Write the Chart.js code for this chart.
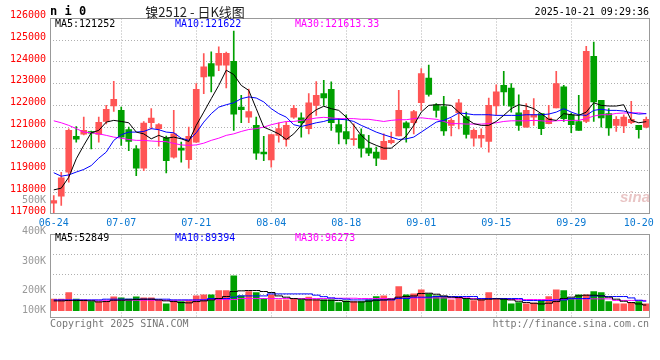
<!DOCTYPE html>
<html>
<head>
<meta charset="utf-8">
<script src="https://cdn.jsdelivr.net/npm/chart.js"></script>
<style>
  html, body { margin: 0; padding: 0; background: #fff; }
  #wrap { position: relative; width: 660px; height: 360px; }
  #wrap canvas { position: absolute; left: 0; top: 0; }
</style>
</head>
<body>
<div id="wrap">
  <canvas id="kline" width="660" height="360"></canvas>
  <canvas id="vol" width="660" height="360"></canvas>
</div>
<script>
const dates = [
  '06-24','06-25','06-26','06-27','06-30',
  '07-01','07-02','07-03','07-04','07-07','07-08','07-09','07-10','07-11',
  '07-14','07-15','07-16','07-17','07-18','07-21','07-22','07-23','07-24','07-25',
  '07-28','07-29','07-30','07-31','08-01',
  '08-04','08-05','08-06','08-07','08-08','08-11','08-12','08-13','08-14','08-15',
  '08-18','08-19','08-20','08-21','08-22','08-25','08-26','08-27','08-28','08-29',
  '09-01','09-02','09-03','09-04','09-05','09-08','09-09','09-10','09-11','09-12',
  '09-15','09-16','09-17','09-18','09-19','09-22','09-23','09-24','09-25','09-26',
  '09-29','09-30','10-09','10-10','10-13','10-14','10-15','10-16','10-17','10-20','10-21'
];
const tickDates = ['06-24','07-07','07-21','08-04','08-18','09-01','09-15','09-29','10-20'];
const gridDates = ['07-07','07-21','08-04','08-18','09-01','09-15','09-29'];

const openP = [117500,117820,118920,120570,120680,120800,120660,121260,121970,121770,
  120890,120000,119110,121200,120930,120510,119620,120030,119500,120310,
  123310,123920,123850,123850,124030,121920,121460,121080,119850,119490,
  120620,120430,121460,121430,120930,122000,122540,122740,121120,120800,
  120420,120660,120030,119850,119510,120280,120590,121200,121200,122120,
  123260,122030,121950,121080,121660,121490,120490,120490,120340,121970,
  122920,122800,121660,121000,121460,121620,121160,121880,122850,121570,
  121260,121260,124260,122230,121620,121080,121050,121200,121080,121000];
const highP = [117850,118920,120920,121030,121460,120820,121460,122000,123110,121920,
  121000,120150,121260,121850,121160,120590,121770,120310,121000,123000,
  124380,124460,124700,124450,125420,122460,122750,121460,120570,120660,
  121200,121230,122000,121660,122540,123100,123150,123080,121390,121570,
  121150,120920,120620,120080,120690,120770,122690,121260,121770,123690,
  123850,122080,122420,121390,122280,121690,120920,120920,122340,122950,
  123570,123000,122490,122080,122310,121620,122000,123570,122920,121650,
  122460,124720,124920,122230,121850,121490,121570,122190,121080,121460];
const lowP = [116950,117390,118460,120310,120640,120000,120310,121150,121720,120160,
  119920,118770,119000,120920,120120,118890,119570,119390,119110,120300,
  122540,122620,123600,122800,120850,121200,121200,119510,119460,119160,
  120310,120120,121400,120540,120690,121540,122000,120850,120230,120230,
  120160,119620,119690,119230,119510,120230,120590,120310,120690,121770,
  122430,121460,120620,120590,120920,120490,120120,120080,119850,121540,
  122000,121690,120850,121000,121080,120650,121150,121880,121260,120740,
  120850,121200,121260,121000,120620,120800,120740,121160,120490,120960];
const closeP = [117620,118660,120850,120450,120850,120720,121220,121820,122280,120540,
  120340,119110,121190,121420,121120,119460,120690,119940,120570,122740,
  123770,123350,124400,124400,121600,121800,121720,119800,119770,120660,
  120930,121080,121860,121200,122120,122460,122340,121200,120770,120460,
  120470,120030,119800,119570,120340,120390,121770,120960,121720,123460,
  122510,121770,120820,121310,122120,120660,120850,120620,122000,122620,
  122620,121960,121080,121770,121570,120930,121420,123000,121390,121110,
  120850,124490,122160,121420,120960,121360,121460,121360,120880,121360];

const ma5 = [118110,118190,118690,119540,120160,120740,120850,121230,121310,121260,
  121200,120770,120690,120460,120620,120490,120540,120460,120340,121080,
  121690,122310,122920,123620,123420,122920,122690,121850,121000,120850,
  120690,120430,120690,121080,121540,121800,121960,121850,121770,121460,
  121080,120620,120310,120160,120030,120030,120310,120590,121080,121690,
  122000,122030,122030,122000,121690,121390,121160,121080,121080,121260,
  121540,121850,122030,121970,121850,121620,121360,121310,121620,121570,
  121540,121690,122120,122000,121970,121970,122030,121310,121200,121252];
const ma10 = [118900,118740,118800,118930,119050,119230,119570,119850,120390,120650,
  120770,120770,120800,120930,120880,120770,120740,120490,120390,120740,
  121230,121620,121920,122030,122120,122310,122390,122340,122160,121850,
  121620,121460,121110,121030,121110,121200,121260,121360,121360,121340,
  121260,121080,120930,120770,120650,120540,120430,120460,120540,120770,
  121000,121230,121310,121460,121650,121620,121570,121570,121570,121540,
  121540,121540,121540,121570,121570,121570,121600,121690,121850,121690,
  121570,121540,121770,121820,121770,121770,121740,121660,121600,121622];
const ma30 = [121290,121200,121080,120930,120770,120740,120690,120620,120540,120490,
  120430,120390,120390,120360,120340,120330,120250,120180,120160,120180,
  120260,120390,120490,120620,120690,120800,120890,120930,121000,121110,
  121190,121260,121260,121310,121360,121420,121450,121420,121390,121390,
  121390,121360,121360,121310,121260,121310,121340,121340,121390,121430,
  121390,121360,121260,121160,121160,121140,121140,121140,121160,121200,
  121260,121290,121290,121290,121310,121290,121260,121290,121310,121310,
  121310,121390,121510,121570,121570,121630,121650,121650,121660,121613.33];

const volume = [108000,108000,171000,108000,101000,86000,86000,92000,130000,120000,
  108000,130000,120000,120000,98000,63000,92000,86000,92000,139000,
  149000,149000,190000,190000,329000,139000,180000,171000,117000,149000,
  101000,101000,108000,101000,127000,101000,101000,101000,76000,92000,
  86000,86000,101000,133000,139000,101000,228000,149000,158000,196000,
  158000,139000,133000,101000,127000,117000,95000,117000,171000,117000,
  117000,63000,76000,63000,70000,92000,133000,196000,190000,117000,
  149000,149000,180000,171000,86000,63000,63000,76000,86000,63000];
const volMa5 = [92000,92000,95000,95000,95000,92000,82000,85500,98000,98000,
  101000,104500,108000,108000,101000,92000,85500,76000,73000,85500,
  92000,101000,114000,133000,180500,187000,190000,190000,180500,171000,
  139000,127000,114000,108000,101000,101000,98000,98000,95000,85500,
  82000,82000,88700,98000,101000,108000,127000,133000,139000,161500,
  164700,155000,139000,127000,123500,114000,108000,101000,108000,111000,
  108000,101000,88700,76000,69700,63000,69700,85500,114000,127000,
  139000,145700,145700,139000,127000,108000,88700,76000,63000,52849];
const volMa10 = [101000,101000,101000,101000,101000,101000,101000,108000,108000,108000,
  108000,108000,108000,108000,108000,108000,101000,101000,101000,101000,
  101000,114000,114000,114000,127000,139000,139000,139000,139000,158000,
  158000,158000,158000,158000,158000,146000,132000,120000,112000,108000,
  101000,101000,101000,101000,101000,101000,114000,114000,127000,127000,
  127000,133000,133000,133000,133000,133000,133000,114000,114000,114000,
  114000,114000,114000,95000,95000,95000,95000,101000,101000,114000,
  114000,114000,139000,139000,133000,133000,133000,120000,98000,89394];
const volMa30 = [98000,98000,98000,98000,98000,98000,98000,98000,98000,98000,
  98000,98000,98000,98000,98000,98000,98000,98000,98000,98000,
  104500,104500,104500,104500,104500,114000,114000,114000,114000,114000,
  114000,114000,114000,114000,114000,114000,114000,117000,117000,117000,
  117000,114000,114000,114000,114000,114000,120000,120000,120000,120000,
  120000,120000,120000,120000,120000,120000,114000,114000,114000,114000,
  114000,104500,104500,104500,104500,104500,104500,104500,104500,111000,
  111000,111000,111000,111000,111000,96273,96273,96273,96273,96273];

const priceLegend = ['MA5:121252', 'MA10:121622', 'MA30:121613.33'];
const volLegend = ['MA5:52849', 'MA10:89394', 'MA30:96273'];
const volLabels = ['500K', '400K', '300K', '200K', '100K'];

const MONO = '"DejaVu Sans Mono", "Liberation Mono", monospace';
const UP = '#ff5555';
const DOWN = '#00a000';
const GRID = '#b0b0b0';
const candleColor = dates.map((d, i) => closeP[i] >= openP[i] ? UP : DOWN);

Chart.defaults.font.family = MONO;
Chart.defaults.font.size = 10;

function xAxis(showLabels) {
  return {
    offset: true,
    grid: {
      offset: false,
      drawTicks: false,
      color: c => gridDates.includes(dates[c.index]) ? GRID : 'transparent'
    },
    border: { display: false, dash: [1, 2] },
    ticks: {
      display: showLabels,
      autoSkip: false,
      maxRotation: 0,
      padding: 3,
      color: '#0a78d2',
      font: { family: MONO, size: 10 },
      callback: (v, i) => tickDates.includes(dates[i]) ? dates[i] : ''
    },
    afterFit: s => { s.height = showLabels ? 20 : 0; }
  };
}

function maLine(data, color) {
  return { type: 'line', data: data, borderColor: color, borderWidth: 1,
           pointRadius: 0, tension: 0, order: 0 };
}

function text(ctx, str, x, y, color, font, align) {
  ctx.font = font;
  ctx.fillStyle = color;
  ctx.textAlign = align || 'left';
  ctx.textBaseline = 'middle';
  ctx.fillText(str, x, y);
}

function frame(ctx, a) {
  ctx.strokeStyle = '#999';
  ctx.lineWidth = 1;
  const x0 = Math.floor(a.left) + 0.5, y0 = Math.floor(a.top) + 0.5;
  const x1 = Math.ceil(a.right) - 0.5, y1 = Math.ceil(a.bottom) - 0.5;
  ctx.strokeRect(x0, y0, x1 - x0, y1 - y0);
}

const priceDecor = {
  id: 'priceDecor',
  afterDraw(chart) {
    const { ctx, chartArea: a } = chart;
    ctx.save();
    frame(ctx, a);
    const f = '10px ' + MONO;
    text(ctx, 'n i 0', 50, 12, '#000', 'bold 12px ' + MONO);
    text(ctx, '镍2512 - 日K线图', 195, 12, '#222', '13px "Noto Sans CJK SC"', 'center');
    text(ctx, '2025-10-21 09:29:36', 649, 12, '#000', f, 'right');
    text(ctx, priceLegend[0], 55, a.top + 6, '#000', f);
    text(ctx, priceLegend[1], 175, a.top + 6, '#0000ff', f);
    text(ctx, priceLegend[2], 295, a.top + 6, '#ff00ff', f);
    text(ctx, 'sina', a.right - 30, a.bottom - 16, 'rgba(215,150,150,0.55)', 'italic bold 15px "Liberation Sans"');
    ctx.restore();
  }
};

const volDecor = {
  id: 'volDecor',
  afterDraw(chart) {
    const { ctx, chartArea: a } = chart;
    ctx.save();
    frame(ctx, a);
    const f = '10px ' + MONO;
    text(ctx, volLegend[0], 55, a.top + 4, '#000', f);
    text(ctx, volLegend[1], 175, a.top + 4, '#0000ff', f);
    text(ctx, volLegend[2], 295, a.top + 4, '#ff00ff', f);
    const labelY = [-34.5, -3.5, 26.5, 55.5, 75.5];
    volLabels.forEach((s, i) => text(ctx, s, 46, a.top + labelY[i], '#999', f, 'right'));
    text(ctx, 'Copyright 2025 SINA.COM', 50, a.bottom + 6, '#777', f);
    text(ctx, 'http://finance.sina.com.cn', 649, a.bottom + 6, '#777', f, 'right');
    ctx.restore();
  }
};

new Chart(document.getElementById('kline'), {
  type: 'bar',
  data: {
    labels: dates,
    datasets: [
      maLine(ma5, '#000000'),
      maLine(ma10, '#0000ff'),
      maLine(ma30, '#ff00ff'),
      {
        data: dates.map((d, i) => [openP[i], closeP[i]]),
        backgroundColor: candleColor, borderWidth: 0,
        barThickness: 6, minBarLength: 1, grouped: false, order: 1
      },
      {
        data: dates.map((d, i) => [lowP[i], highP[i]]),
        backgroundColor: candleColor, borderWidth: 0,
        barThickness: 1, grouped: false, order: 2
      }
    ]
  },
  options: {
    responsive: false,
    animation: false,
    events: [],
    layout: { padding: { left: 0, right: 10, top: 18.5, bottom: 126 } },
    plugins: { legend: { display: false }, tooltip: { enabled: false } },
    scales: {
      x: xAxis(true),
      y: {
        min: 117000,
        max: 126000,
        ticks: { stepSize: 1000, color: '#ff0000', padding: 4, labelOffset: -3,
                 font: { family: MONO, size: 10 },
                 callback: v => String(v) },
        grid: {
          drawTicks: false,
          color: c => (c.tick.value === 117000 || c.tick.value === 126000) ? 'transparent' : GRID
        },
        border: { display: false, dash: [1, 2] },
        afterFit: s => { s.width = 50; }
      }
    }
  },
  plugins: [priceDecor]
});

new Chart(document.getElementById('vol'), {
  type: 'bar',
  data: {
    labels: dates,
    datasets: [
      Object.assign(maLine(volMa5, '#000000'), { stepped: 'middle' }),
      Object.assign(maLine(volMa10, '#0000ff'), { stepped: 'middle' }),
      Object.assign(maLine(volMa30, '#ff00ff'), { stepped: 'middle' }),
      {
        data: volume,
        backgroundColor: candleColor, borderWidth: 0,
        barThickness: 6, grouped: false, order: 1
      }
    ]
  },
  options: {
    responsive: false,
    animation: false,
    events: [],
    layout: { padding: { left: 0, right: 10, top: 234.5, bottom: 42 } },
    plugins: { legend: { display: false }, tooltip: { enabled: false } },
    scales: {
      x: xAxis(false),
      y: {
        min: -70000,
        max: 720000,
        afterBuildTicks: s => { s.ticks = [150000, 340000, 530000].map(v => ({ value: v })); },
        ticks: { display: false },
        grid: { drawTicks: false, color: GRID },
        border: { display: false, dash: [1, 2] },
        afterFit: s => { s.width = 50; }
      }
    }
  },
  plugins: [volDecor]
});
</script>
</body>
</html>
